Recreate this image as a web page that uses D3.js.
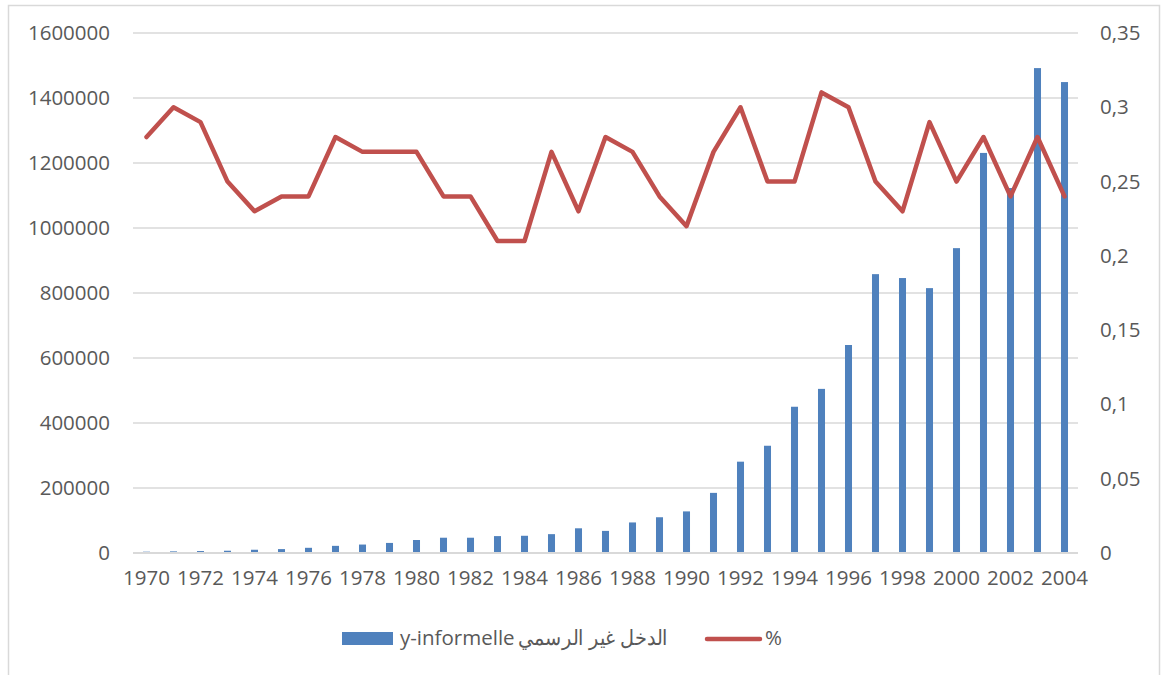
<!DOCTYPE html>
<html>
<head>
<meta charset="utf-8">
<script src="https://cdn.jsdelivr.net/npm/d3@7/dist/d3.min.js"></script>
<style>
  html, body { margin: 0; padding: 0; background: #fff; }
  svg { display: block; }
  text { font-family: "Open Sans", "Liberation Sans", sans-serif; fill: #595959; }
</style>
</head>
<body>
<svg id="chart" width="1161" height="675"></svg>
<script>
const years = d3.range(1970, 2005).map(String);
const income = [4000, 5000, 6000, 7000, 10000, 12000, 16000, 22000, 26000, 31000,
  40000, 47000, 47000, 52000, 53000, 58000, 76000, 68000, 94000, 110000,
  128000, 185000, 281000, 330000, 450000, 505000, 640000, 858000, 846000, 815000,
  938000, 1231000, 1123000, 1492000, 1449000];
const pct = [0.28, 0.30, 0.29, 0.25, 0.23, 0.24, 0.24, 0.28, 0.27, 0.27,
  0.27, 0.24, 0.24, 0.21, 0.21, 0.27, 0.23, 0.28, 0.27, 0.24,
  0.22, 0.27, 0.30, 0.25, 0.25, 0.31, 0.30, 0.25, 0.23, 0.29,
  0.25, 0.28, 0.24, 0.28, 0.24];
const leftTicks = [0, 200000, 400000, 600000, 800000, 1000000, 1200000, 1400000, 1600000];
const rightTicks = [0, 0.05, 0.1, 0.15, 0.2, 0.25, 0.3, 0.35];
const seriesNameLatin = "y-informelle";
const seriesNameArabic = "الدخل غير الرسمي";
const lineName = "%";

const svg = d3.select("#chart");
const W = 1161, H = 675;
const plot = { left: 133, right: 1078, top: 33, bottom: 553 };

// chart border (top, left, right)
svg.append("path")
  .attr("d", `M8.5,${H} L8.5,5.5 L1159.5,5.5 L1159.5,${H}`)
  .attr("fill", "none").attr("stroke", "#d9d9d9").attr("stroke-width", 1.5);

const x = d3.scaleBand().domain(years).range([plot.left, plot.right]).paddingInner(0.74).paddingOuter(0.37);
const xc = d => x(d) + x.bandwidth() / 2;
const yL = d3.scaleLinear().domain([0, 1600000]).range([plot.bottom, plot.top]);
const yR = d3.scaleLinear().domain([0, 0.35]).range([plot.bottom, plot.top]);

// gridlines
svg.append("g").selectAll("line").data(leftTicks.slice(1)).join("line")
  .attr("x1", plot.left).attr("x2", plot.right)
  .attr("y1", d => yL(d)).attr("y2", d => yL(d))
  .attr("stroke", "#d9d9d9").attr("stroke-width", 1.5);

// left axis labels
const axL = d3.axisLeft(yL).tickValues(leftTicks).tickSize(0).tickPadding(0).tickFormat(d => String(d));
const gL = svg.append("g").attr("transform", "translate(110,0)").call(axL);
gL.select(".domain").remove();
gL.selectAll("text").style("font-size", "20.5px").attr("fill", "#595959")
  .style("font-family", "'Open Sans', sans-serif");

// right axis labels
const axR = d3.axisRight(yR).tickValues(rightTicks).tickSize(0).tickPadding(0)
  .tickFormat(d => d === 0 ? "0" : String(+d.toFixed(2)).replace(".", ","));
const gR = svg.append("g").attr("transform", "translate(1100,0)").call(axR);
gR.select(".domain").remove();
gR.selectAll("text").style("font-size", "20.5px").attr("fill", "#595959")
  .style("font-family", "'Open Sans', sans-serif");

// bars
svg.append("g").selectAll("rect").data(years).join("rect")
  .attr("x", d => x(d))
  .attr("width", x.bandwidth())
  .attr("y", (d, i) => yL(income[i]))
  .attr("height", (d, i) => plot.bottom - yL(income[i]))
  .attr("fill", "#4f81bd");

// zero axis line
svg.append("line").attr("x1", plot.left).attr("x2", plot.right)
  .attr("y1", plot.bottom).attr("y2", plot.bottom)
  .attr("stroke", "#d9d9d9").attr("stroke-width", 2);

// x axis labels
const axX = d3.axisBottom(x).tickSize(0).tickPadding(0)
  .tickFormat(d => (+d % 2 === 0 ? d : ""));
const gX = svg.append("g").attr("transform", "translate(0,570)").call(axX);
gX.select(".domain").remove();
gX.selectAll("text").style("font-size", "20.5px").attr("fill", "#595959")
  .style("font-family", "'Open Sans', sans-serif");

// line
const line = d3.line().x((d, i) => xc(years[i])).y(d => yR(d));
svg.append("path").datum(pct).attr("d", line)
  .attr("fill", "none").attr("stroke", "#c0504d").attr("stroke-width", 4.5)
  .attr("stroke-linejoin", "round").attr("stroke-linecap", "round");

// legend
const lg = svg.append("g");
lg.append("rect").attr("x", 342).attr("y", 632).attr("width", 51).attr("height", 13).attr("fill", "#4f81bd");
lg.append("text").attr("x", 400).attr("y", 645)
  .style("font-size", "20.5px").text(seriesNameLatin);
lg.append("text").attr("x", 668).attr("y", 645).attr("text-anchor", "end")
  .attr("textLength", 150).attr("lengthAdjust", "spacingAndGlyphs")
  .style("font-size", "20.5px").text(seriesNameArabic);
lg.append("line").attr("x1", 707).attr("x2", 760).attr("y1", 639).attr("y2", 639)
  .attr("stroke", "#c0504d").attr("stroke-width", 4.5).attr("stroke-linecap", "round");
lg.append("text").attr("x", 765).attr("y", 645).style("font-size", "20.5px").text(lineName);
</script>
</body>
</html>
